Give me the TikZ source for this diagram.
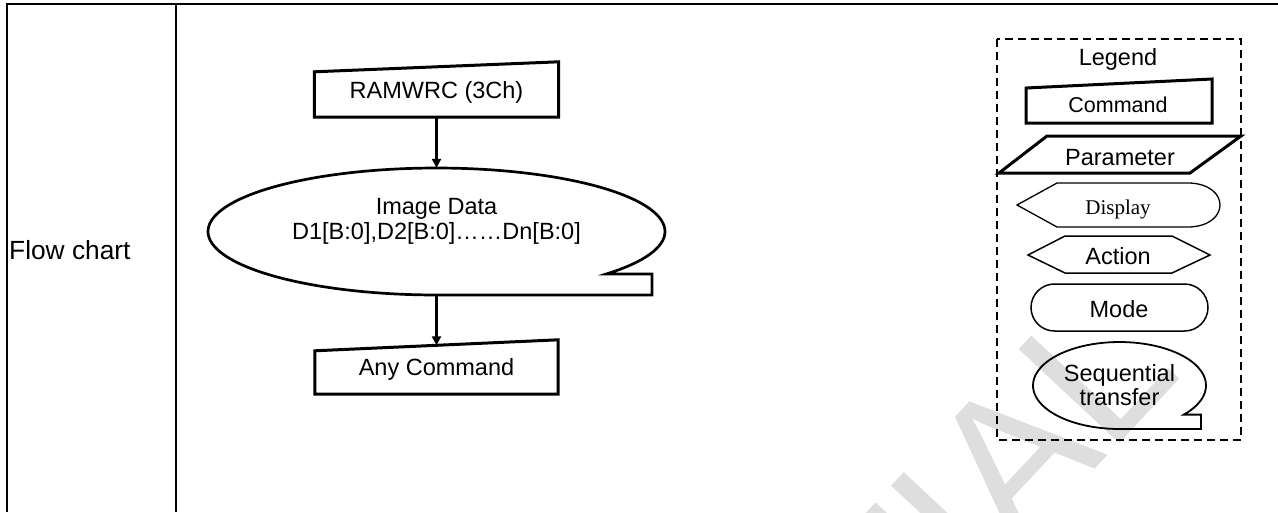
\documentclass[tikz,border=0pt]{standalone}
\usepackage{fontspec}
\setmainfont{Liberation Sans}
\newfontfamily\dispfont{Liberation Serif}
\usetikzlibrary{arrows.meta,shapes.geometric}
\definecolor{wmgray}{RGB}{222,222,222}
\begin{document}
\begin{tikzpicture}[x=1pt,y=-1pt,
  txt/.style={font=\fontsize{23.5}{25}\selectfont, align=center, inner sep=0pt},
  tbl/.style={line width=2pt},
  cmdline/.style={line width=3pt},
  thinline/.style={line width=1.5pt},
  seqline/.style={line width=2.7pt},
  arr/.style={line width=2.5pt, -{Triangle[width=9pt,length=9pt]}},
  legendbox/.style={line width=1.6pt, dash pattern=on 8pt off 5pt},
  wmtext/.style={text=wmgray, font=\fontsize{200}{200}\selectfont, rotate=47, anchor=base west, inner sep=0pt}
]
\useasboundingbox (0,0) rectangle (1278,512);
\begin{scope}
\clip (0,0) rectangle (1278,512);
\node[wmtext] (wm) at (896,683) {TIAL};
\end{scope}

% table
\draw[tbl] (1278,4) -- (7,4) -- (7,512);
\draw[tbl] (176,4) -- (176,512);
\node[txt, anchor=base west, font=\fontsize{26.3}{26}\selectfont] (rowlabel) at (9,259) {Flow chart};

% flow
\node[txt, minimum width=244pt, minimum height=50pt] (ramwrc) at (436.5,92) {RAMWRC (3Ch)};
\draw[cmdline] (ramwrc.south west) -- (ramwrc.south east) -- ([yshift=5pt]ramwrc.north east) -- ([yshift=-5pt]ramwrc.north west) -- cycle;

\node[ellipse, draw=none, inner sep=0pt, minimum width=457pt, minimum height=127pt] (img) at (436.5,231.5) {};
\draw[seqline] plot[domain=90:402, samples=120, variable=\t] ({436.5+228.5*cos(\t)},{231.5+63.5*sin(\t)}) -- (652,274) -- (652,295) -- cycle;
\node[txt] (imgtxt) at (436.5,221.5) {Image Data\\D1[B:0],D2[B:0]……Dn[B:0]};

\node[txt, minimum width=243pt, minimum height=48.5pt] (anycmd) at (436.5,369.75) {Any Command};
\draw[cmdline] (anycmd.south west) -- (anycmd.south east) -- ([yshift=5.5pt]anycmd.north east) -- ([yshift=-5.5pt]anycmd.north west) -- cycle;

\draw[arr] (ramwrc.south) -- (img.north);
\draw[arr] (img.south) -- (anycmd.north);

% legend
\draw[legendbox] (997,39) rectangle (1241,440);
\node[txt, anchor=base] (legendtitle) at (1118,65) {Legend};
\node[txt, anchor=base, font=\fontsize{21.5}{25}\selectfont] (lcmd) at (1118,112) {Command};
\draw[cmdline] (1026,123) -- (1212,123) -- (1212,79) -- (1026,88) -- cycle;
\node[txt, anchor=base] (lpar) at (1120,165) {Parameter};
\draw[cmdline] (1047,136) -- (1241,136) -- (1190,173) -- (999,173) -- cycle;
\node[txt, anchor=base, font=\dispfont\fontsize{21}{25}\selectfont] (ldisp) at (1118,214) {Display};
\draw[line width=1.3pt] (1017,205) -- (1057,183) -- (1190,183) .. controls (1230,185) and (1230,225) .. (1190,227) -- (1057,227) -- cycle;
\node[txt, anchor=base] (lact) at (1118,264) {Action};
\draw[thinline] (1028,255) -- (1065,236) -- (1172,236) -- (1210,255) -- (1172,273) -- (1065,273) -- cycle;
\node[txt, anchor=base] (lmode) at (1119,317) {Mode};
\draw[thinline, rounded corners=23.5pt] (1031,284) rectangle (1208,331);
\node[txt, font=\fontsize{23.5}{24}\selectfont] (lseq) at (1119.5,385.5) {Sequential\\transfer};
\draw[line width=1.8pt] plot[domain=90:402, samples=80, variable=\t] ({1119.5+86.5*cos(\t)},{385.5+43.5*sin(\t)}) -- (1201,414.6) -- (1201,429) -- cycle;
\end{tikzpicture}
\end{document}
